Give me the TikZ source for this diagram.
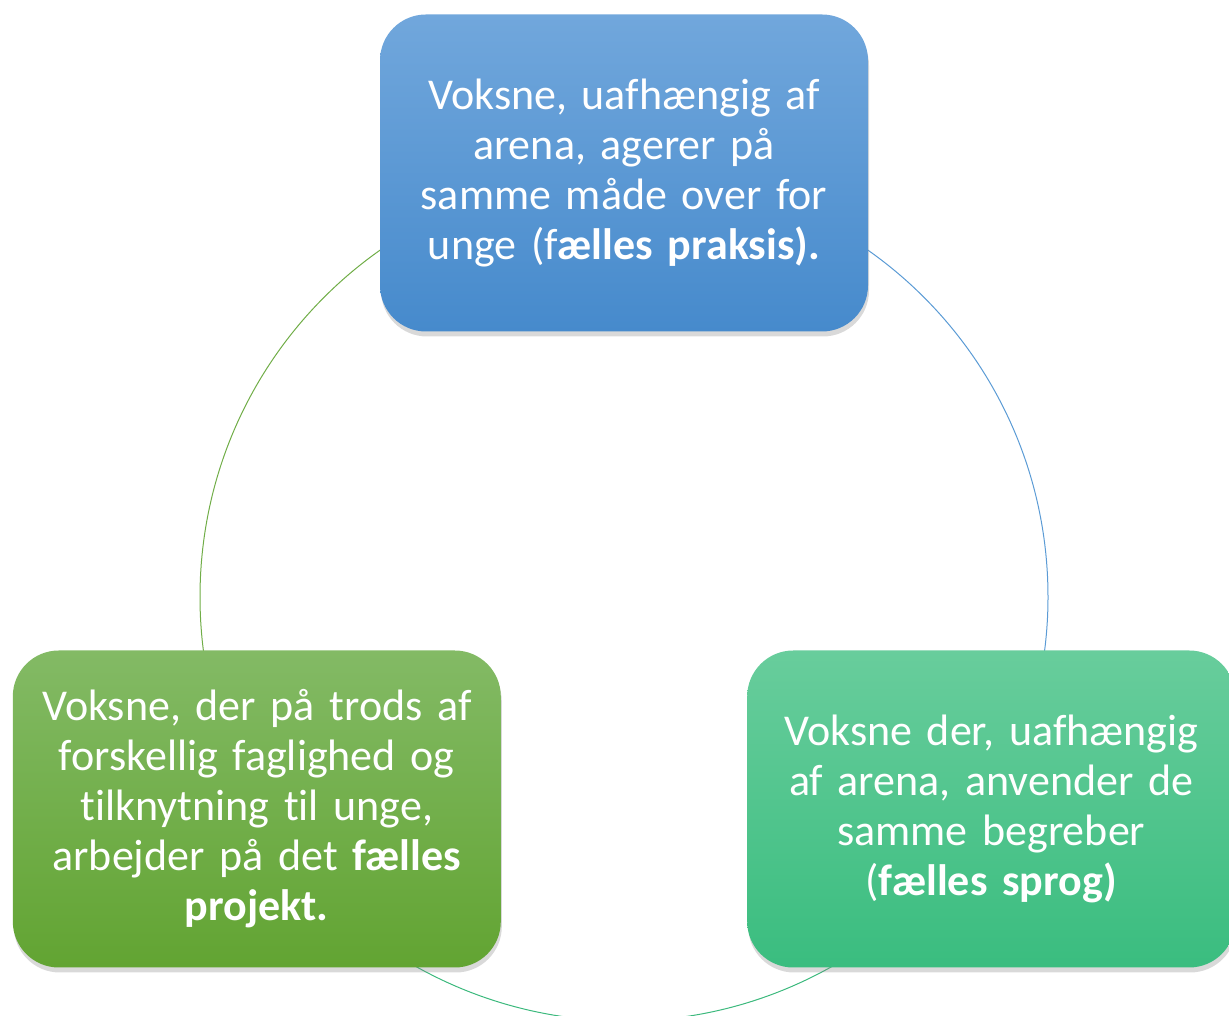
\documentclass[tikz,border=0pt]{standalone}
\usepackage{fontspec}
\setmainfont[Ligatures=NoCommon]{Carlito}
\usetikzlibrary{shadows,backgrounds}

\definecolor{praksistop}{RGB}{113,167,220}
\definecolor{praksisbot}{RGB}{70,138,204}
\definecolor{projekttop}{RGB}{131,186,101}
\definecolor{projektbot}{RGB}{98,164,50}
\definecolor{sprogtop}{RGB}{104,205,156}
\definecolor{sprogbot}{RGB}{58,189,127}
\definecolor{arcblue}{RGB}{91,155,213}
\definecolor{arcgreen}{RGB}{112,173,71}
\definecolor{arcteal}{RGB}{60,185,125}

\tikzset{
  box/.style={rounded corners=46pt, minimum width=488pt, minimum height=317pt,
    text width=476pt, align=center, text=white, inner sep=0pt,
    font=\fontsize{44}{50}\selectfont,
    drop shadow={shadow xshift=1pt, shadow yshift=-5pt, opacity=0.3}},
  ring/.style={line width=1pt}
}

\begin{document}
\begin{tikzpicture}[x=1pt,y=1pt]
\useasboundingbox (0,0) rectangle (1229,1016);
\clip (0,0) rectangle (1229,1016);

\node[box, top color=praksistop, bottom color=praksisbot] (praksis) at (624,843)
  {Voksne, uafhængig af\\ arena, agerer på\\ samme måde over for\\ unge (f\textbf{ælles praksis).}};
\node[box, top color=projekttop, bottom color=projektbot] (projekt) at (256.8,207)
  {Voksne, der på trods af\\ forskellig faglighed og\\ tilknytning til unge,\\ arbejder på det \textbf{fælles}\\ \textbf{projekt.}};
\node[box, top color=sprogtop, bottom color=sprogbot] (sprog) at (991.2,207)
  {Voksne der, uafhængig\\ af arena, anvender de\\ samme begreber\\ (\textbf{fælles sprog)}};

\begin{scope}[on background layer]
\draw[ring, arcgreen] (praksis.center) arc (90:210:424);
\draw[ring, arcblue] (praksis.center) arc (90:-30:424);
\draw[ring, arcteal] (projekt.center) arc (210:330:424);
\end{scope}
\end{tikzpicture}
\end{document}
